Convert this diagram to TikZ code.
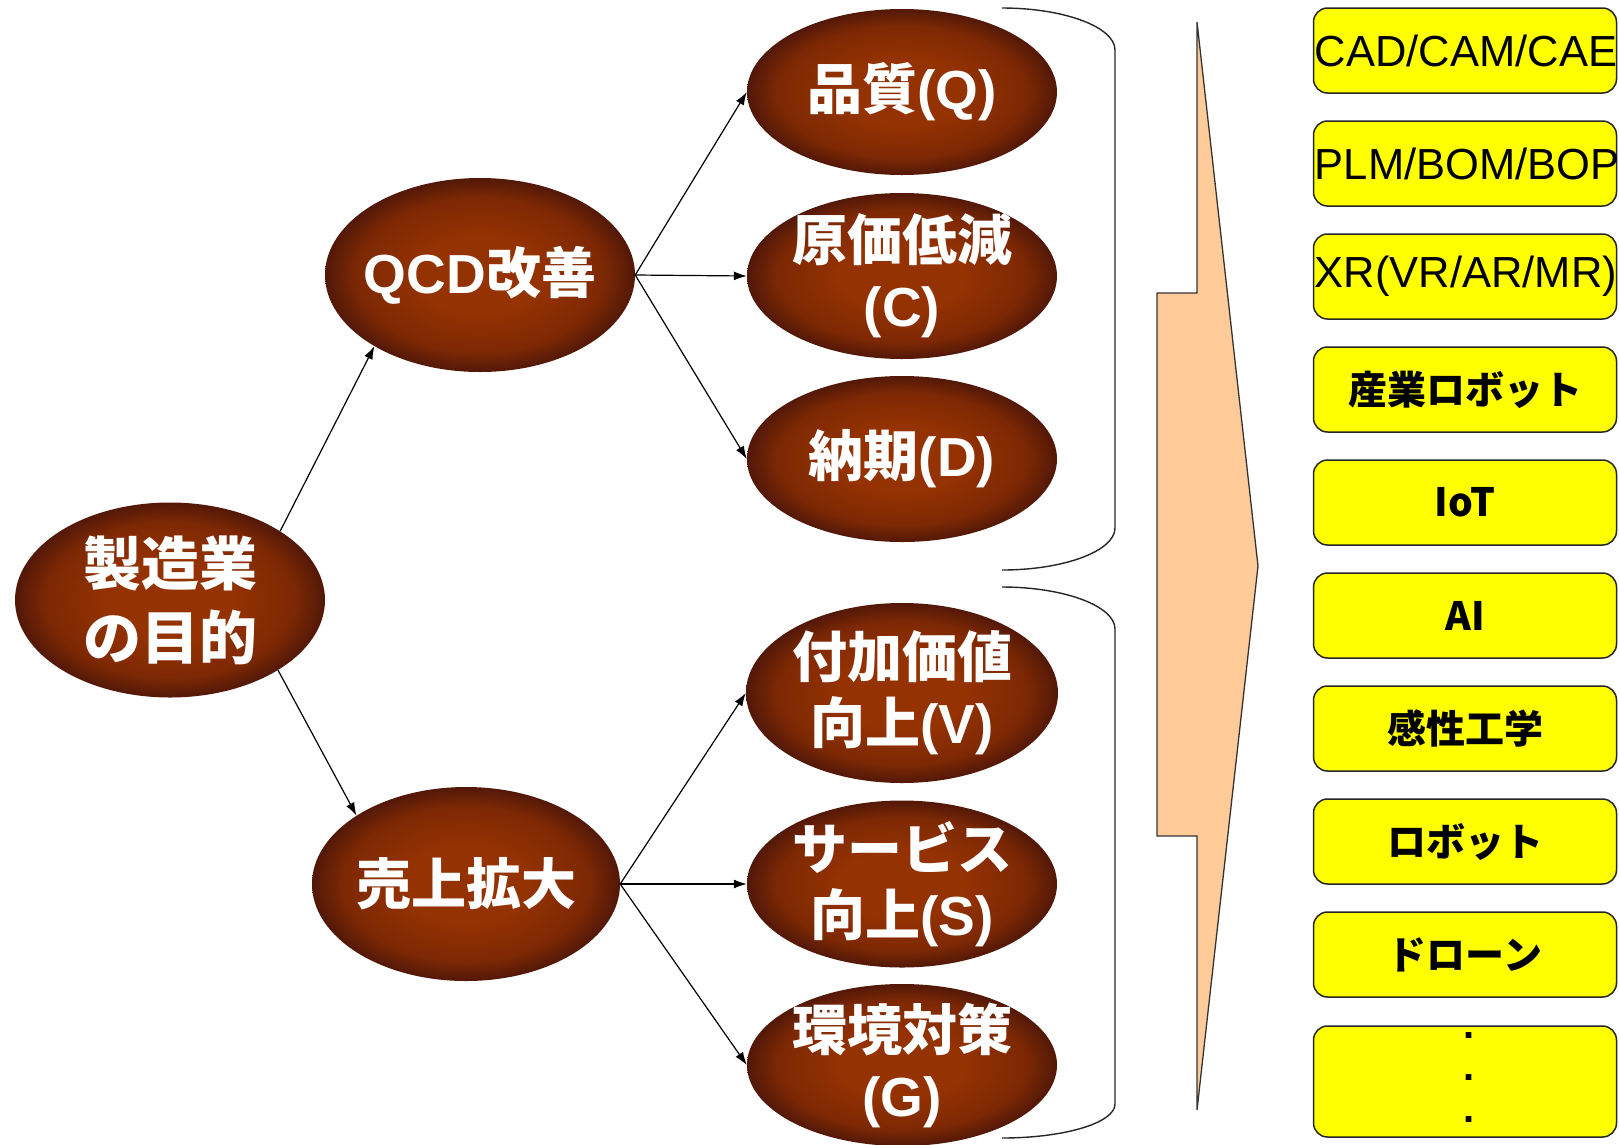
\documentclass[tikz,border=0pt]{standalone}
\usepackage{fontspec}
\usetikzlibrary{shapes.geometric,arrows.meta}
\newfontfamily\jp{Noto Sans CJK JP}
\newfontfamily\lat{Liberation Sans}
\definecolor{bcen}{RGB}{148,50,2}
\definecolor{bmid}{RGB}{125,40,4}
\definecolor{bout}{RGB}{82,24,8}
\definecolor{peach}{RGB}{255,204,153}
\definecolor{boxyel}{RGB}{255,255,0}
\pgfdeclareradialshading{brownrad}{\pgfpoint{0bp}{0bp}}{color(0bp)=(bcen); color(10bp)=(bcen); color(20bp)=(bmid); color(25bp)=(bout); color(50bp)=(bout)}
\newcommand\la[1]{{\lat\bfseries #1}}
\begin{document}
\begin{tikzpicture}[x=1pt,y=-1pt,
  ell/.style={ellipse, shade, shading=brownrad, inner sep=0pt},
  etext/.style={text=white, font=\jp\bfseries\fontsize{55pt}{66pt}\selectfont, align=center, inner sep=0pt},
  rtext/.style={text=white, font=\jp\bfseries\fontsize{58pt}{74pt}\selectfont, align=center, inner sep=0pt},
  ybox/.style={draw=black!85, line width=1.5pt, fill=boxyel, rounded corners=14pt, minimum width=303pt, minimum height=85pt, inner sep=0pt},
  jtext/.style={font=\jp\bfseries\fontsize{39pt}{42pt}\selectfont, inner sep=0pt},
  ltext/.style={font=\lat\fontsize{43.5pt}{46pt}\selectfont, inner sep=0pt, anchor=west},
  dtext/.style={font=\lat\bfseries\fontsize{40pt}{42pt}\selectfont, align=center, inner sep=0pt},
  conn/.style={line width=1.2pt, -{Latex[length=13pt,width=9pt]}},
  brace/.style={line width=1.4pt, draw=black!85},
]
\useasboundingbox (0,0) rectangle (1619,1144);

% ellipses
\node[ell, minimum width=310pt, minimum height=195pt] (root) at (170,600) {};
\node[rtext] (root-t) at (root) {製造業\\の目的};
\node[ell, minimum width=310pt, minimum height=194pt] (qcd) at (480,275) {};
\node[etext] (qcd-t) at (qcd) {\la{QCD}改善};
\node[ell, minimum width=308pt, minimum height=194pt] (uri) at (466,884) {};
\node[etext] (uri-t) at (uri) {売上拡大};

\node[ell, minimum width=310pt, minimum height=166pt] (q) at (902,92) {};
\node[etext] (q-t) at (q) {品質\la{(Q)}};
\node[ell, minimum width=310pt, minimum height=166pt] (c) at (902,276) {};
\node[etext] (c-t) at (c) {原価低減\\\la{(C)}};
\node[ell, minimum width=310pt, minimum height=166pt] (d) at (902,459) {};
\node[etext] (d-t) at (d) {納期\la{(D)}};
\node[ell, minimum width=312pt, minimum height=180pt] (v) at (902,693) {};
\node[etext] (v-t) at (v) {付加価値\\向上\la{(V)}};
\node[ell, minimum width=310pt, minimum height=167pt] (s) at (902,884) {};
\node[etext] (s-t) at (s) {サービス\\向上\la{(S)}};
\node[ell, minimum width=310pt, minimum height=162pt] (g) at (902,1065) {};
\node[etext] (g-t) at (g) {環境対策\\\la{(G)}};

% connectors
\draw[conn] (root.32) -- (qcd.214);
\draw[conn] (root.327) -- (uri.148);
\draw[conn] (qcd.east) -- (q.west);
\draw[conn] (qcd.east) -- (c.west);
\draw[conn] (qcd.east) -- (d.west);
\draw[conn] (uri.east) -- (v.west);
\draw[conn] (uri.east) -- (s.west);
\draw[conn] (uri.east) -- (g.west);

% braces
\draw[brace] (1002,8) .. controls (1064,8) and (1115,27) .. (1115,50) -- (1115,528) .. controls (1115,551) and (1064,570) .. (1002,570);
\draw[brace] (1002,587) .. controls (1064,587) and (1115,606) .. (1115,629) -- (1115,1104) .. controls (1115,1123) and (1064,1138) .. (1002,1138);

% big arrow
\draw[fill=peach, draw=black!80, line width=1.3pt, line join=miter]
  (1197,22) -- (1258,566) -- (1197,1110) -- (1197,836) -- (1157,836) -- (1157,293) -- (1197,293) -- cycle;

% boxes
\node[ybox] (b1) at (1465,50.5) {};
\node[ltext] (b1-t) at ([xshift=2pt]b1.west) {CAD/CAM/CAE};
\node[ybox] (b2) at (1465,163.5) {};
\node[ltext] (b2-t) at ([xshift=2pt]b2.west) {PLM/BOM/BOP};
\node[ybox] (b3) at (1465,276.5) {};
\node[ltext] (b3-t) at ([xshift=2pt]b3.west) {XR(VR/AR/MR)};
\node[ybox] (b4) at (1465,389.5) {};
\node[jtext] (b4-t) at (b4) {産業ロボット};
\node[ybox] (b5) at (1465,502.5) {};
\node[jtext] (b5-t) at (b5) {IoT};
\node[ybox] (b6) at (1465,615.5) {};
\node[jtext] (b6-t) at (b6) {AI};
\node[ybox] (b7) at (1465,728.5) {};
\node[jtext] (b7-t) at (b7) {感性工学};
\node[ybox] (b8) at (1465,841.5) {};
\node[jtext] (b8-t) at (b8) {ロボット};
\node[ybox] (b9) at (1465,954.5) {};
\node[jtext] (b9-t) at (b9) {ドローン};
\node[ybox, minimum height=111pt] (b10) at (1465,1081.5) {};
\node[dtext] (b10-t) at (1469,1078) {.\\.\\.};
\end{tikzpicture}
\end{document}
